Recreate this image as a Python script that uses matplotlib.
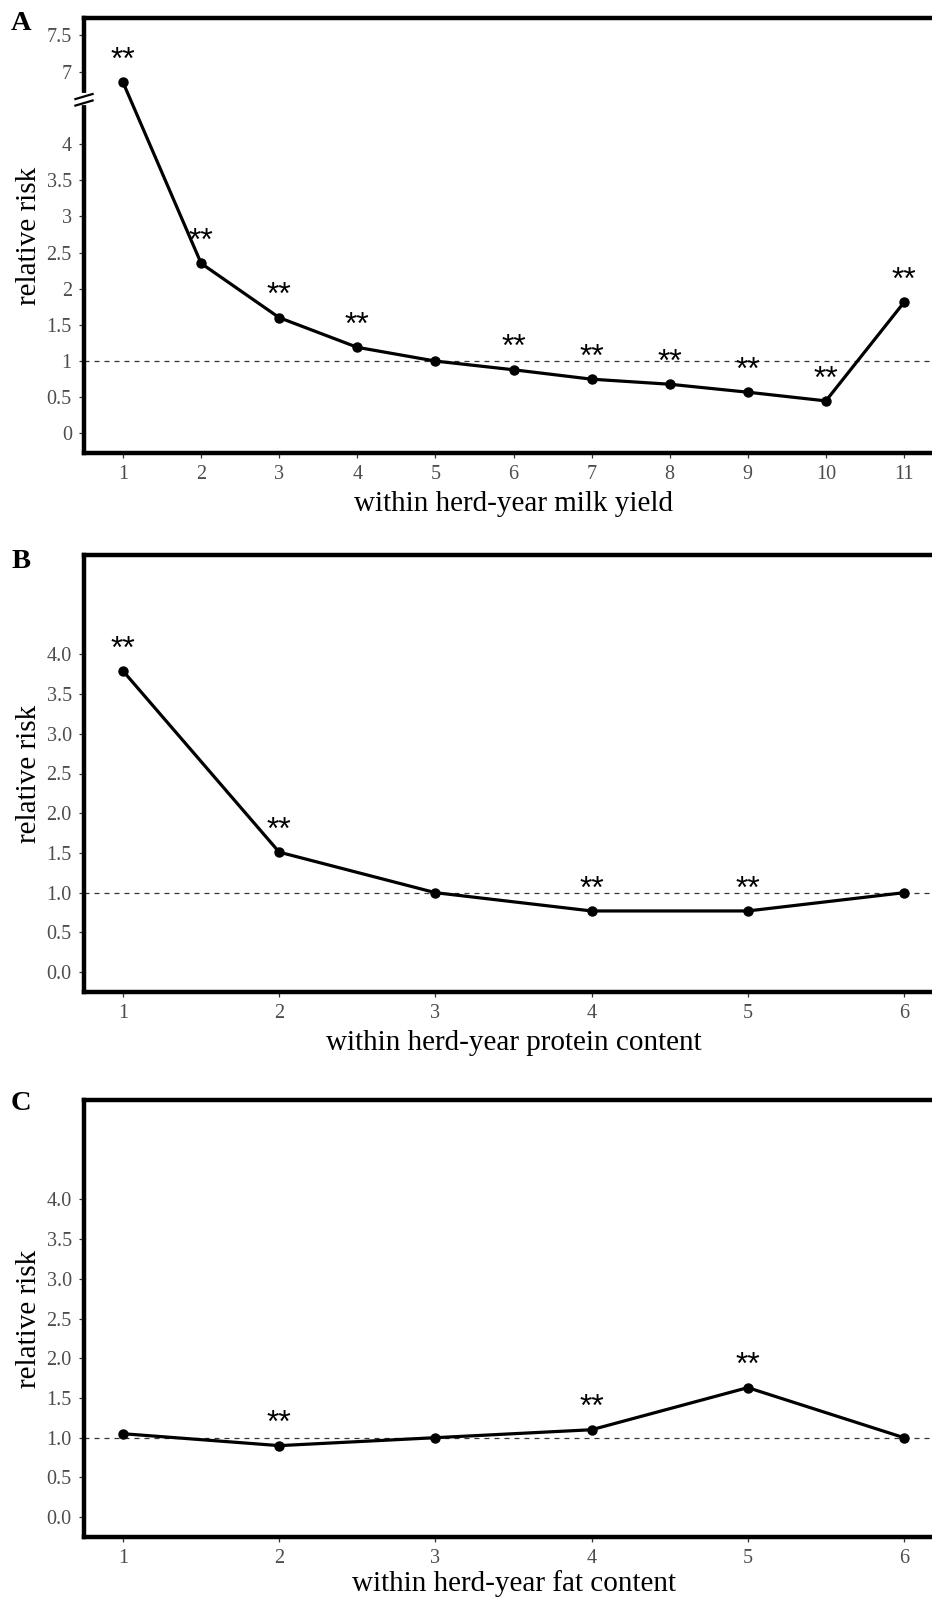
import numpy as np
import matplotlib.pyplot as plt
from matplotlib.lines import Line2D

# Data
milk_x = np.arange(1, 12)
milk_rr = [6.85, 2.35, 1.60, 1.19, 1.00, 0.88, 0.75, 0.68, 0.57, 0.45, 1.81]
milk_sig = [1, 1, 1, 1, 0, 1, 1, 1, 1, 1, 1]

protein_x = np.arange(1, 7)
protein_rr = [3.79, 1.51, 1.00, 0.77, 0.77, 1.00]
protein_sig = [1, 1, 0, 1, 1, 0]

fat_x = np.arange(1, 7)
fat_rr = [1.05, 0.90, 1.00, 1.10, 1.63, 1.00]
fat_sig = [0, 1, 0, 1, 1, 0]

milk_yticks = [0, 0.5, 1, 1.5, 2, 2.5, 3, 3.5, 4, 7, 7.5]
milk_yticklabels = ["0", "0.5", "1", "1.5", "2", "2.5", "3", "3.5", "4", "7", "7.5"]
rr_yticks = [0, 0.5, 1, 1.5, 2, 2.5, 3, 3.5, 4]
rr_yticklabels = ["0.0", "0.5", "1.0", "1.5", "2.0", "2.5", "3.0", "3.5", "4.0"]

# broken axis for panel A: values above the gap are shifted down by 2
GAP = 2.0


def squash(v):
    v = np.asarray(v, dtype=float)
    return np.where(v > 5, v - GAP, v)


W, H = 932, 1598
fig = plt.figure(figsize=(W / 100, H / 100), dpi=100)
plt.rcParams["font.family"] = "Liberation Serif"

GREY = "#4D4D4D"


def make_ax(top_px, bottom_px, left_px=84, width_px=859):
    return fig.add_axes([left_px / W, 1 - bottom_px / H,
                         width_px / W, (bottom_px - top_px) / H])


def style(ax, xlabel, xpad=5):
    for s in ax.spines.values():
        s.set_linewidth(3.2)
        s.set_color("black")
    ax.tick_params(axis="both", colors="#333333", width=0.9, length=3.8,
                   labelsize=14.5, labelcolor=GREY, pad=5)
    ax.set_ylabel("relative risk", fontsize=21, color="black", labelpad=3)
    ax.set_xlabel(xlabel, fontsize=21, color="black", labelpad=xpad)


def draw(ax, x, y, sig):
    ax.axhline(1, color="#333333", lw=0.9, ls=(0, (4, 4)), zorder=1)
    ax.plot(x, y, color="black", lw=2.3, marker="o", ms=6.5, zorder=3,
            clip_on=False)
    for xi, yi, s in zip(x, y, sig):
        if s:
            ax.annotate("**", (xi, yi), xytext=(0, 9.7), textcoords="offset points",
                        ha="center", va="baseline", fontsize=23,
                        family="Liberation Sans", color="black")


# Panel A
axA = make_ax(18, 453)
draw(axA, milk_x, squash(milk_rr), milk_sig)
axA.set_xlim(0.5, 11.5)
axA.set_ylim(-0.27, 5.74)
axA.set_xticks(milk_x)
axA.set_yticks(squash(milk_yticks))
axA.set_yticklabels(milk_yticklabels)
style(axA, "within herd-year milk yield")

# break marks on the left spine
yb = 4.6
trans = axA.get_yaxis_transform()
axA.add_line(Line2D([0, 0], [yb - 0.02, yb + 0.06], color="white", lw=4.5,
                    transform=trans, clip_on=False, zorder=5))
for dy in (0.0, 0.09):
    axA.add_line(Line2D([-0.01, 0.01], [yb - 0.07 + dy, yb + dy],
                        color="black", lw=1.6, transform=trans,
                        clip_on=False, zorder=6))

# Panel B
axB = make_ax(555, 992)
draw(axB, protein_x, protein_rr, protein_sig)
axB.set_xlim(0.75, 6.25)
axB.set_ylim(-0.25, 5.25)
axB.set_xticks(protein_x)
axB.set_yticks(rr_yticks)
axB.set_yticklabels(rr_yticklabels)
style(axB, "within herd-year protein content")

# Panel C
axC = make_ax(1100, 1537)
draw(axC, fat_x, fat_rr, fat_sig)
axC.set_xlim(0.75, 6.25)
axC.set_ylim(-0.25, 5.25)
axC.set_xticks(fat_x)
axC.set_yticks(rr_yticks)
axC.set_yticklabels(rr_yticklabels)
style(axC, "within herd-year fat content", xpad=1.5)

for lab, ypx in (("A", 23), ("B", 562), ("C", 1104)):
    fig.text(21 / W, 1 - ypx / H, lab, fontsize=20.5, fontweight="bold",
             ha="center", va="center")

fig.savefig("out.png", dpi=100)
